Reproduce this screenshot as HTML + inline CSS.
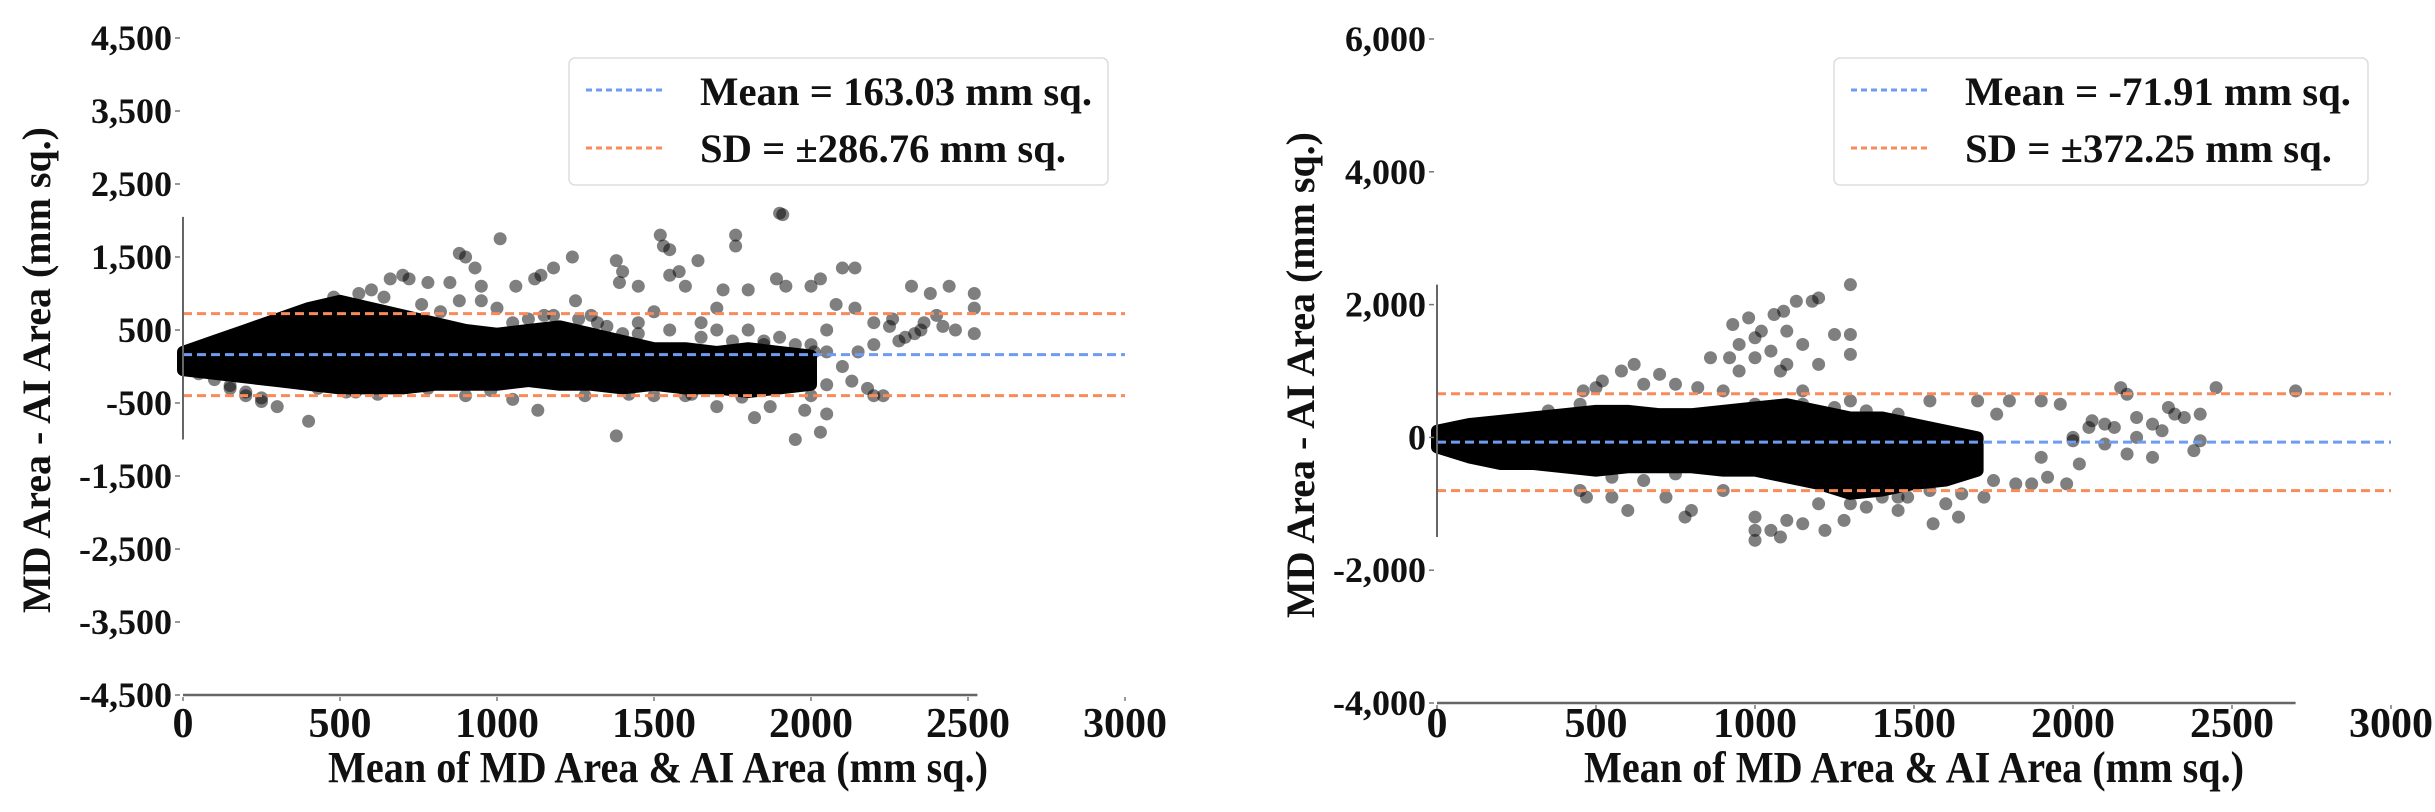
<!DOCTYPE html>
<html><head><meta charset="utf-8"><style>
html,body{margin:0;padding:0;background:#fff;}
svg text{font-family:"Liberation Serif",serif;font-weight:bold;fill:#111;}
</style></head><body>
<svg id="root" width="2435" height="807" xmlns="http://www.w3.org/2000/svg"></svg>
<script>
// ---------- Data ----------
const xTicks=[0,500,1000,1500,2000,2500,3000];
const leftYTicks=[4500,3500,2500,1500,500,-500,-1500,-2500,-3500,-4500];
const rightYTicks=[6000,4000,2000,0,-2000,-4000];
const leftMean=163.03, leftSD=286.76;
const rightMean=-71.91, rightSD=372.25;
const leftBandX=[0,100,200,300,400,500,600,700,800,900,1000,1100,1200,1300,1400,1500,1600,1700,1800,1900,2000];
const leftBandLo=[-50,-100,-150,-200,-250,-300,-300,-300,-250,-250,-250,-200,-250,-250,-300,-250,-300,-300,-350,-300,-250];
const leftBandHi=[200,350,500,650,800,900,800,700,600,500,450,500,550,450,350,250,250,200,250,200,150];
const leftPtsX=[400,300,250,200,150,880,900,1010,930,950,1060,1140,1180,1240,1120,700,720,660,600,780,850,1380,1400,1390,1450,1520,1530,1550,1580,1600,1640,1760,1760,1800,1900,1910,1890,1920,2000,2030,2100,2140,2080,2140,2200,2320,2380,2440,2520,2520,2520,2460,2400,2350,2300,2250,2200,2150,2100,2130,2180,2230,2200,2050,2030,1950,1980,1870,1820,1700,1380,1130,1280,1500,1600,900,780,550,430,1050,1700,1720,1550,1500,1650,1700,1800,1850,1900,2000,2050,2010,1950,2050,2000,1950,1860,1300,1250,1150,1000,950,880,1050,1350,1400,1450,1550,2330,2360,2280,2420,2260,50,100,150,200,250,480,560,640,760,820,1100,1180,1260,1320,1450,1650,1750,1850,1950,2050,520,620,980,1420,1620,1780];
const leftPtsY=[-750,-550,-480,-400,-300,1550,1500,1750,1350,1100,1100,1250,1350,1500,1200,1250,1200,1200,1050,1150,1150,1450,1300,1150,1100,1800,1650,1600,1300,1100,1450,1800,1650,1050,2100,2080,1200,1100,1100,1200,1350,1350,850,800,600,1100,1000,1100,1000,800,450,500,700,500,400,550,300,200,0,-200,-300,-400,-400,-650,-900,-1000,-600,-550,-700,-550,-950,-600,-400,-400,-400,-400,-300,-350,-300,-450,800,1050,1250,750,600,500,500,300,400,300,500,200,-200,-250,-400,0,100,700,900,700,800,900,900,600,550,450,600,500,450,600,350,550,650,-100,-180,-260,-350,-430,950,1000,950,850,750,650,700,650,600,450,400,350,350,300,200,-350,-380,-330,-380,-380,-420];
const rightBandX=[0,100,200,300,400,500,600,700,800,900,1000,1100,1200,1300,1400,1500,1600,1700];
const rightBandLo=[-150,-300,-400,-400,-450,-500,-450,-450,-450,-500,-500,-600,-700,-850,-800,-700,-650,-500];
const rightBandHi=[100,200,250,300,350,400,400,350,350,400,450,500,400,300,300,200,100,0];
const rightPtsX=[1300,1200,1180,1130,1090,1060,980,930,1020,1100,1250,1300,1300,950,1000,920,860,1050,1150,1200,1100,1000,1080,950,620,580,520,500,460,700,650,750,820,900,1150,1000,1300,1550,1700,1760,1800,1900,1960,2150,2170,2200,2300,2350,2400,2450,2700,2400,2380,2250,2170,2100,2050,2000,1980,1920,1870,1820,1900,2020,2000,2100,2200,1000,1000,1050,1100,1150,1220,1000,1080,1280,1350,1450,1560,1640,1480,1300,1200,800,780,720,600,550,470,450,900,1400,1600,1720,2250,2280,2320,2130,2060,350,450,550,650,750,1150,1250,1350,1450,1550,1650,1750,1350,1450];
const rightPtsY=[2300,2100,2050,2050,1900,1850,1800,1700,1600,1600,1550,1550,1250,1400,1500,1200,1200,1300,1400,1100,1100,1200,1000,1000,1100,1000,850,750,700,950,800,800,750,700,700,500,550,550,550,350,550,550,500,750,650,300,450,300,350,750,700,-50,-200,-300,-250,-100,150,-50,-700,-600,-700,-700,-300,-400,0,200,0,-1200,-1400,-1400,-1250,-1300,-1400,-1550,-1500,-1250,-1050,-1100,-1300,-1200,-900,-1000,-1000,-1100,-1200,-900,-1100,-900,-900,-800,-800,-900,-1000,-900,200,100,350,150,250,400,500,-600,-650,-550,500,450,400,350,-800,-850,-650,-600,-900,-950];

// ---------- Drawing ----------
const NS="http://www.w3.org/2000/svg";
const root=document.getElementById('root');
function mk(tag,attrs,parent){const e=document.createElementNS(NS,tag);for(const k in attrs)e.setAttribute(k,attrs[k]);(parent||root).appendChild(e);return e;}

function drawChart(cfg){
  const g=mk('g',{});
  
  
  const X=v=>cfg.x0+v*cfg.xs, Y=v=>cfg.y0+(cfg.yTop-v)*cfg.ys;
  let d='';
  cfg.bx.forEach((v,i)=>{d+=(i?'L':'M')+X(v)+','+Y(cfg.bhi[i]);});
  for(let i=cfg.bx.length-1;i>=0;i--)d+='L'+X(cfg.bx[i])+','+Y(cfg.blo[i]);
  const band=mk('path',{d:d+'Z',fill:'#000',stroke:'#000','stroke-width':12,'stroke-linejoin':'round'},g);
  
  
  cfg.px.forEach((v,i)=>{
    const c=mk('circle',{cx:X(v),cy:Y(cfg.py[i]),r:6.5,fill:'#000','fill-opacity':0.5},g);
    
    
  });
  const lines=[[cfg.mean,'#6f9bf0','mean-line'],[cfg.mean+1.96*cfg.sd,'#f98a5a','upper-sd-line'],[cfg.mean-1.96*cfg.sd,'#f98a5a','lower-sd-line']];
  lines.forEach(l=>{
    const ln=mk('line',{x1:X(0),x2:X(3000),y1:Y(l[0]),y2:Y(l[0]),stroke:l[1],'stroke-width':3,'stroke-dasharray':'9,5'},g);
    
    
  });
  const ys=mk('line',{x1:X(0),x2:X(0),y1:Y(cfg.spTop),y2:Y(cfg.spBot),stroke:'#666','stroke-width':2},g);
  
  
  const xsp=mk('line',{x1:X(0),x2:X(cfg.spRight),y1:Y(cfg.yBot),y2:Y(cfg.yBot),stroke:'#666','stroke-width':2.5},g);
  
  
  cfg.yt.forEach(v=>{
    mk('line',{x1:X(0)-8,x2:X(0)-3,y1:Y(v),y2:Y(v),stroke:'#777','stroke-width':1.5},g);
    const t=mk('text',{x:X(0)-11,y:Y(v)+12,'text-anchor':'end','font-size':36},g);
    t.textContent=v===0?'0':v.toLocaleString('en-US');
    
    
  });
  xTicks.forEach(v=>{
    mk('line',{x1:X(v),x2:X(v),y1:Y(cfg.yBot)+2,y2:Y(cfg.yBot)+6,stroke:'#777','stroke-width':1.5},g);
    const t=mk('text',{x:X(v),y:737,'text-anchor':'middle','font-size':42},g);
    t.textContent=v;
    
    
  });
  const xt=mk('text',{x:cfg.xtX-330,y:782,'font-size':44,textLength:660,lengthAdjust:'spacingAndGlyphs'},g);
  xt.textContent='Mean of MD Area & AI Area (mm sq.)';
  
  
  const yt=mk('text',{x:-243,y:0,'font-size':40,textLength:486,lengthAdjust:'spacingAndGlyphs',transform:`translate(${cfg.ytX},${cfg.ytY}) rotate(-90)`},g);
  yt.textContent='MD Area - AI Area (mm sq.)';
  
  
  const lg=mk('g',{},g);
  
  
  mk('rect',{x:cfg.lx,y:58,width:cfg.lw,height:127,rx:6,fill:'#fff',stroke:'#ddd','stroke-width':1.5},lg);
  [[cfg.l1,'#6f9bf0',90,cfg.w1,105],[cfg.l2,'#f98a5a',148,cfg.w2,162]].forEach(e=>{
    mk('line',{x1:cfg.lx+17,x2:cfg.lx+95,y1:e[2],y2:e[2],stroke:e[1],'stroke-width':3,'stroke-dasharray':'6,4'},lg);
    const t=mk('text',{x:cfg.lx+131,y:e[4],'font-size':40,textLength:e[3],lengthAdjust:'spacingAndGlyphs'},lg);
    t.textContent=e[0];
    
    
  });
}

drawChart({name:'left-bland-altman-chart',x0:183,xs:0.314,y0:38,yTop:4500,ys:0.0730,yBot:-4500,
  yt:leftYTicks,bx:leftBandX,blo:leftBandLo,bhi:leftBandHi,px:leftPtsX,py:leftPtsY,
  mean:leftMean,sd:leftSD,spTop:2050,spBot:-1000,spRight:2530,xtX:658,ytX:50,ytY:370,
  lx:569,lw:539,l1:'Mean = 163.03 mm sq.',l2:'SD = ±286.76 mm sq.',w1:392,w2:366});
drawChart({name:'right-bland-altman-chart',x0:1437,xs:0.318,y0:39,yTop:6000,ys:0.0664,yBot:-4000,
  yt:rightYTicks,bx:rightBandX,blo:rightBandLo,bhi:rightBandHi,px:rightPtsX,py:rightPtsY,
  mean:rightMean,sd:rightSD,spTop:2300,spBot:-1500,spRight:2700,xtX:1914,ytX:1314,ytY:375,
  lx:1834,lw:534,l1:'Mean = -71.91 mm sq.',l2:'SD = ±372.25 mm sq.',w1:386,w2:367});
</script>
</body></html>
